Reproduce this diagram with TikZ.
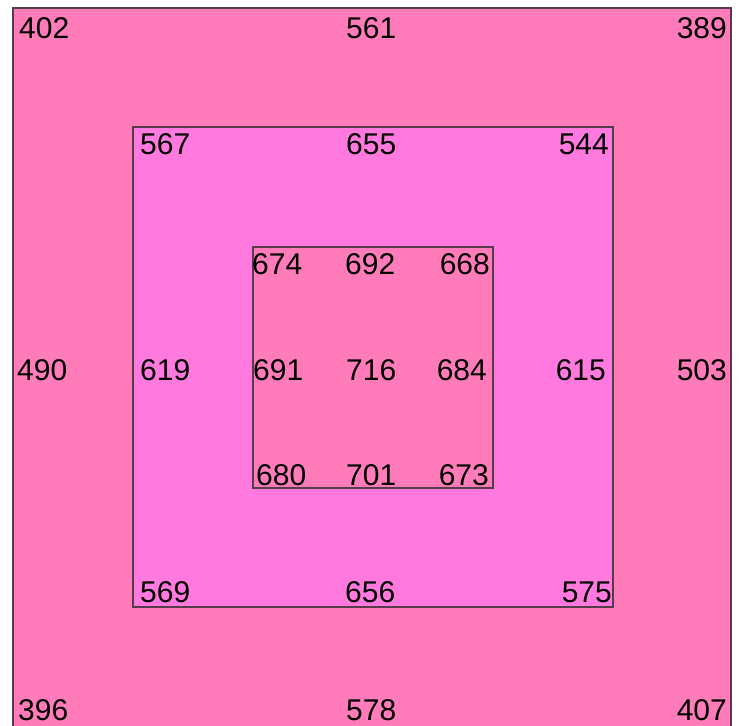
\documentclass[tikz,border=0pt]{standalone}
\usepackage{fontspec}
\setmainfont{Liberation Sans}
\definecolor{outerpink}{RGB}{255,123,186}
\definecolor{midpink}{RGB}{255,121,222}
\definecolor{edgecol}{RGB}{85,60,72}
\begin{document}
\begin{tikzpicture}[x=1pt,y=-1pt,
  num/.style={inner sep=0pt,font=\fontsize{30}{30}\selectfont},
  lnum/.style={num,anchor=base west},
  rnum/.style={num,anchor=base east},
  box/.style={draw=edgecol,line width=1.1pt}]
\useasboundingbox (0,0) rectangle (746,725);
\begin{scope}
\clip (0,0) rectangle (746,725);
\draw[box,fill=outerpink] (13,8) rectangle (731,740);
\end{scope}
\draw[box,fill=midpink] (133,127) rectangle (613,607);
\draw[box,fill=outerpink] (253,247) rectangle (493,488);
% row 1
\node[lnum] (n402) at (19,39) {402};
\node[lnum] (n561) at (346,39) {561};
\node[rnum] (n389) at (727,39) {389};
% row 2
\node[lnum] (n567) at (140,154) {567};
\node[lnum] (n655) at (346,154) {655};
\node[rnum] (n544) at (609,154) {544};
% row 3
\node[lnum] (n674) at (252,274) {674};
\node[lnum] (n692) at (345,274) {692};
\node[rnum] (n668) at (490,274) {668};
% row 4
\node[lnum] (n490) at (17,380) {490};
\node[lnum] (n619) at (140,380) {619};
\node[lnum] (n691) at (253,380) {691};
\node[lnum] (n716) at (346,380) {716};
\node[rnum] (n684) at (487,380) {684};
\node[rnum] (n615) at (606,380) {615};
\node[rnum] (n503) at (727,380) {503};
% row 5
\node[lnum] (n680) at (256,485) {680};
\node[lnum] (n701) at (346,485) {701};
\node[rnum] (n673) at (489,485) {673};
% row 6
\node[lnum] (n569) at (140,602) {569};
\node[lnum] (n656) at (345,602) {656};
\node[rnum] (n575) at (612,602) {575};
% row 7
\node[lnum] (n396) at (18,720) {396};
\node[lnum] (n578) at (346,720) {578};
\node[rnum] (n407) at (727,720) {407};
\end{tikzpicture}
\end{document}
